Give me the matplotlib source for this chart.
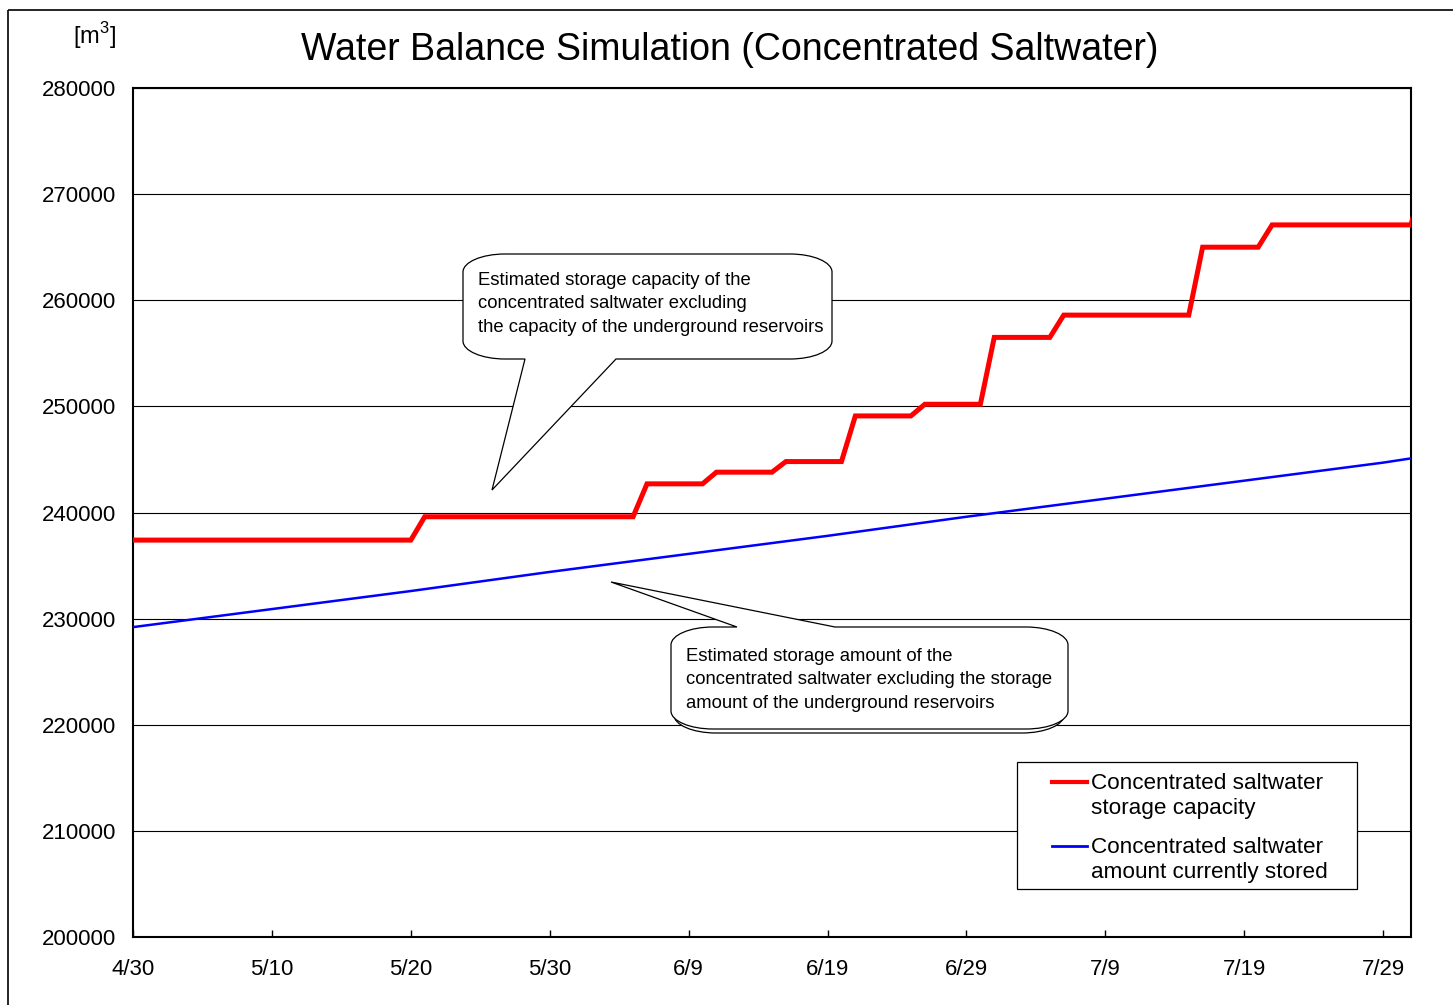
import matplotlib
matplotlib.use("Agg")
import matplotlib.pyplot as plt
import matplotlib.dates as mdates
import matplotlib.transforms as mtransforms
from matplotlib.path import Path
from matplotlib.patches import PathPatch, Rectangle
import pandas as pd

plt.rcParams['font.family'] = ['Liberation Sans', 'DejaVu Sans']
plt.rcParams['mathtext.fontset'] = 'custom'
plt.rcParams['mathtext.rm'] = 'Liberation Sans'

# Speicherkapazität (Treppenkurve, Eckpunkte)
kap_daten = ["2011-04-30", "2011-05-20", "2011-05-21", "2011-06-05", "2011-06-06",
             "2011-06-10", "2011-06-11", "2011-06-15", "2011-06-16", "2011-06-20",
             "2011-06-21", "2011-06-25", "2011-06-26", "2011-06-30", "2011-07-01",
             "2011-07-05", "2011-07-06", "2011-07-15", "2011-07-16", "2011-07-20",
             "2011-07-21", "2011-07-31", "2011-08-01"]
kap_werte = [237400, 237400, 239600, 239600, 242700,
             242700, 243800, 243800, 244800, 244800,
             249100, 249100, 250200, 250200, 256500,
             256500, 258600, 258600, 265000, 265000,
             267100, 267100, 272000]

# aktuell gespeicherte Menge
menge_daten = ["2011-04-30", "2011-05-10", "2011-05-20", "2011-05-30", "2011-06-09",
               "2011-06-19", "2011-06-29", "2011-07-09", "2011-07-19", "2011-07-29",
               "2011-07-31"]
menge_werte = [229200, 230900, 232600, 234400, 236100,
               237800, 239600, 241300, 243000, 244700,
               245100]

x_ticks = ["2011-04-30", "2011-05-10", "2011-05-20", "2011-05-30", "2011-06-09",
           "2011-06-19", "2011-06-29", "2011-07-09", "2011-07-19", "2011-07-29"]
y_ticks = list(range(200000, 280001, 10000))

titel = "Water Balance Simulation (Concentrated Saltwater)"
legende = ["Concentrated saltwater\nstorage capacity",
           "Concentrated saltwater\namount currently stored"]
text_kap = ("Estimated storage capacity of the\nconcentrated saltwater excluding\n"
            "the capacity of the underground reservoirs")
text_menge = ("Estimated storage amount of the\nconcentrated saltwater excluding the storage\n"
              "amount of the underground reservoirs")

W, H = 1453, 1005
fig = plt.figure(figsize=(W / 100, H / 100), dpi=100)
ax = fig.add_axes([133 / W, 1 - 937 / H, (1411 - 133) / W, (937 - 88) / H])

# Pixel-Transformation (y nach unten)
px = mtransforms.Affine2D().scale(1 / 100, -1 / 100).translate(0, H / 100) + fig.dpi_scale_trans

ax.plot(pd.to_datetime(kap_daten), kap_werte, color='#ff0000', lw=3.6,
        solid_joinstyle='miter', zorder=4)
ax.plot(pd.to_datetime(menge_daten), menge_werte, color='#0000ff', lw=1.8, zorder=4)

ax.set_xlim(pd.Timestamp("2011-04-30"), pd.Timestamp("2011-07-31"))
ax.set_ylim(200000, 280000)
ax.set_xticks(pd.to_datetime(x_ticks))
ax.xaxis.set_major_formatter(mdates.DateFormatter('%-m/%-d'))
ax.set_yticks(y_ticks)
ax.tick_params(axis='x', direction='in', length=5, width=1, labelsize=16, pad=16)
ax.tick_params(axis='y', length=0, labelsize=16, pad=12)
ax.grid(axis='y', color='black', lw=0.8)
ax.set_axisbelow(True)
for s in ax.spines.values():
    s.set_linewidth(1.5)

fig.text(730 / W, 1 - 50 / H, titel, fontsize=27, ha='center', va='center')
fig.text(116 / W, 1 - 36 / H, r"[m$^{3}$]", fontsize=17, ha='right', va='center')

# äußerer Rahmen
fig.patches.append(Rectangle((8, 10), 1460, 1010, transform=px, fill=False,
                             ec='black', lw=1.2))


def sprechblase(x0, y0, x1, y1, rx, ry, seite=None, b1=None, b2=None, spitze=None):
    k = 0.5523
    v = [(x0 + rx, y0)]
    c = [Path.MOVETO]
    if seite == 'oben':
        v += [(b1, y0), spitze, (b2, y0)]
        c += [Path.LINETO] * 3
    v += [(x1 - rx, y0), (x1 - rx + k * rx, y0), (x1, y0 + ry - k * ry), (x1, y0 + ry),
          (x1, y1 - ry), (x1, y1 - ry + k * ry), (x1 - rx + k * rx, y1), (x1 - rx, y1)]
    c += [Path.LINETO] + [Path.CURVE4] * 3 + [Path.LINETO] + [Path.CURVE4] * 3
    if seite == 'unten':
        v += [(b2, y1), spitze, (b1, y1)]
        c += [Path.LINETO] * 3
    v += [(x0 + rx, y1), (x0 + rx - k * rx, y1), (x0, y1 - ry + k * ry), (x0, y1 - ry),
          (x0, y0 + ry), (x0, y0 + ry - k * ry), (x0 + rx - k * rx, y0), (x0 + rx, y0)]
    c += [Path.LINETO] + [Path.CURVE4] * 3 + [Path.LINETO] + [Path.CURVE4] * 3
    return Path(v, c)


# Sprechblase 1
fig.patches.append(PathPatch(sprechblase(463, 254, 832, 359, 42, 18, 'unten', 525, 616, (492, 490)),
                             transform=px, fc='white', ec='black', lw=0.9, zorder=5))
fig.text(478, 304, text_kap, transform=px, fontsize=13.3, ha='left', va='center',
         linespacing=1.5, zorder=6)

# Sprechblase 2 mit Schatten
fig.patches.append(PathPatch(sprechblase(674, 630, 1064, 733, 42, 18),
                             transform=px, fc='white', ec='black', lw=0.9, zorder=5))
fig.patches.append(PathPatch(sprechblase(671, 627, 1068, 729, 42, 18, 'oben', 737, 835, (611, 582)),
                             transform=px, fc='white', ec='black', lw=0.9, zorder=5))
fig.text(686, 680, text_menge, transform=px, fontsize=13.3, ha='left', va='center',
         linespacing=1.5, zorder=6)

# Legende
fig.patches.append(Rectangle((1017, 762), 340, 127, transform=px, fc='white',
                             ec='black', lw=0.9, zorder=5))
for i, (farbe, lw, label) in enumerate([('#ff0000', 3.0, legende[0]), ('#0000ff', 2.0, legende[1])]):
    y = 782 + i * 64
    fig.lines.append(plt.Line2D([1052, 1087], [y, y], transform=px, color=farbe, lw=lw, zorder=6))
    fig.text(1091, y - 9, label, transform=px, fontsize=16.2, ha='left', va='top',
             linespacing=1.26, zorder=6)

fig.savefig("out.png", dpi=100)
